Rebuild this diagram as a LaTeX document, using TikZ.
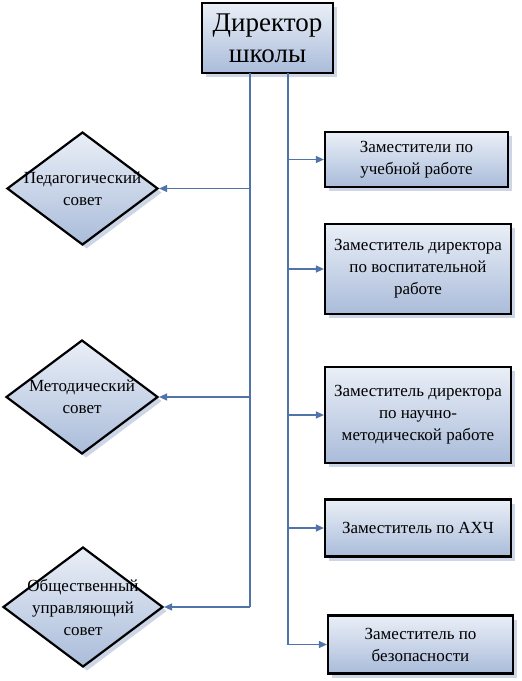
\documentclass[tikz,border=0pt]{standalone}
\usepackage{fontspec}
\setmainfont{Liberation Serif}
\usetikzlibrary{shapes.geometric,shadows,arrows.meta}
\definecolor{topc}{RGB}{234,239,247}
\definecolor{botc}{RGB}{170,188,218}
\definecolor{shadc}{RGB}{205,214,230}
\definecolor{linec}{RGB}{80,115,170}
\definecolor{textc}{RGB}{30,30,30}
\tikzset{
  boxbase/.style={draw=black, line width=2.2pt, top color=topc, bottom color=botc,
    drop shadow={shadow xshift=4pt, shadow yshift=-4pt, fill=shadc, opacity=1}},
  dirbox/.style={boxbase, rectangle, minimum width=131pt, minimum height=70pt, align=center,
    font=\fontsize{27}{31}\selectfont, inner sep=0pt},
  depbox/.style={boxbase, rectangle, minimum width=186pt, align=center,
    font=\fontsize{17}{22}\selectfont, inner sep=2pt},
  council/.style={boxbase, diamond, inner sep=0pt},
  ctext/.style={align=center, font=\fontsize{17}{22}\selectfont},
  conn/.style={draw=linec, line width=1.3pt},
  arr/.style={conn, -{Triangle[length=8pt,width=7pt]}, fill=linec}
}
\begin{document}
\begin{tikzpicture}[x=1pt,y=-1pt]
\useasboundingbox (0,0) rectangle (522,681);
% director
\node[dirbox] (dir) at (267.5,38) {Директор\\школы};
% right boxes
\node[depbox, minimum height=55pt, minimum width=183pt] (b1) at (416.5,159.5) {Заместители по\\учебной работе};
\node[depbox, minimum height=90pt] (b2) at (418,269) {Заместитель директора\\по воспитательной\\работе};
\node[depbox, minimum height=96pt] (b3) at (418,415) {Заместитель директора\\по научно-\\методической работе};
\node[depbox, minimum height=57pt] (b4) at (418,528) {Заместитель по АХЧ};
\node[depbox, minimum height=58pt, minimum width=185pt] (b5) at (420.5,644.5) {Заместитель по\\безопасности};
% diamonds
\node[council, minimum width=151pt, minimum height=113pt] (c1) at (82.5,188.5) {};
\node[ctext] (t1) at (c1.center) {Педагогический\\совет};
\node[council, minimum width=152pt, minimum height=114pt] (c2) at (82,397) {};
\node[ctext] (t2) at (c2.center) {Методический\\совет};
\node[council, minimum width=160pt, minimum height=120pt] (c3) at (83,607) {};
\node[ctext] (t3) at (c3.center) {Общественный\\управляющий\\совет};
% trunk coordinates
\coordinate (L0) at (250,73);
\coordinate (L1) at (250,607);
\coordinate (R0) at (288,73);
\coordinate (R1) at (288,644.5);
\draw[conn] (L0) -- (L1);
\draw[conn] (R0) -- (R1);
% arrows
\foreach \c in {c1,c2,c3} \draw[arr] (L0 |- \c.east) -- (\c.east);
\foreach \b in {b1,b2,b3,b4,b5} \draw[arr] (R0 |- \b.west) -- (\b.west);
\end{tikzpicture}
\end{document}
